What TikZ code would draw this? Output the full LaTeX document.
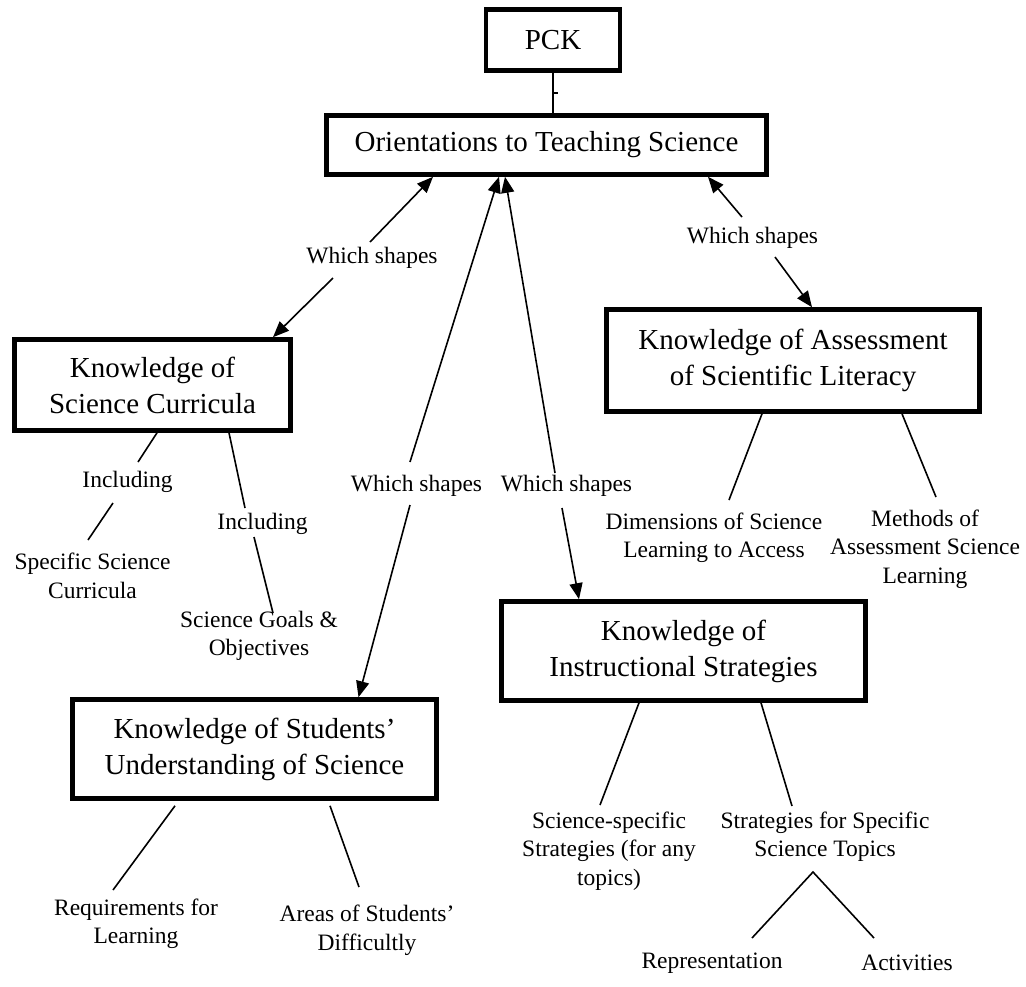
\documentclass[tikz,border=0pt]{standalone}
\usepackage{fontspec}
\setmainfont{Liberation Serif}
\usetikzlibrary{arrows.meta,calc}

\begin{document}
\begin{tikzpicture}[
      x=1pt, y=-1pt,
      line width=1.6pt,
      >={Triangle[length=16pt,width=13pt]},
      box/.style={draw, line width=4.6pt, align=center, inner sep=0pt, font=\fontsize{29pt}{36pt}\selectfont},
      lbl/.style={align=center, inner sep=0pt, font=\fontsize{23.5pt}{28.5pt}\selectfont},
]
\useasboundingbox (0,0) rectangle (1026,986);

% boxes
\node[box, minimum width=134pt, minimum height=61pt] (pck) at (553,40) {PCK};
\node[box, minimum width=440pt, minimum height=59pt] (orient) at (546.5,145) {Orientations to Teaching Science};
\node[box, minimum width=276pt, minimum height=91pt] (curric) at (152.5,385) {Knowledge of\\Science Curricula};
\node[box, minimum width=373pt, minimum height=102pt] (assess) at (793,360.5) {Knowledge of Assessment\\of Scientific Literacy};
\node[box, minimum width=364pt, minimum height=99pt] (stud) at (254.5,749) {Knowledge of Students'\\Understanding of Science};
\node[box, minimum width=364pt, minimum height=99pt] (instr) at (683.5,651) {Knowledge of\\Instructional Strategies};

% labels on the arrows
\node[lbl] (shapes_curric) at (372,257.5) {Which shapes};
\node[lbl] (shapes_stud) at (416.5,485.5) {Which shapes};
\node[lbl] (shapes_instr) at (566.5,485.5) {Which shapes};
\node[lbl] (shapes_assess) at (752.5,237.5) {Which shapes};

% leaves
\node[lbl] (incl_a) at (127.5,481.5) {Including};
\node[lbl] (incl_b) at (262.5,523.5) {Including};
\node[lbl] (spec) at (92.5,576) {Specific Science\\Curricula};
\node[lbl] (goals) at (259,636) {Science Goals \&\\Objectives};
\node[lbl] (req) at (136,923.6) {Requirements for\\Learning};
\node[lbl] (areas) at (367,930) {Areas of Students'\\Difficultly};
\node[lbl] (dims) at (714,538) {Dimensions of Science\\Learning to Access};
\node[lbl] (meth) at (925,549) {Methods of\\Assessment Science\\Learning};
\node[lbl] (sspec) at (609,851) {Science-specific\\Strategies (for any\\topics)};
\node[lbl] (stopic) at (825,836.6) {Strategies for Specific\\Science Topics};
\node[lbl] (rep) at (712,963) {Representation};
\node[lbl] (act) at (907,963) {Activities};

% pck
\draw (pck.south) -- (pck.south |- orient.north);
\draw ($(pck.south)!0.5!(pck.south |- orient.north)$) -- ++(5,0);

% which shapes arrows
\draw[<-] ([shift={(-113.5,0)}]orient.south) -- ([shift={(-2,-15.5)}]shapes_curric.center);
\draw[->] ([shift={(-39,20.5)}]shapes_curric.center) -- ([shift={(120.5,0)}]curric.north);
\draw[<-] ([shift={(-47.5,0)}]orient.south) -- ([shift={(-6.5,-23.5)}]shapes_stud.center);
\draw[->] ([shift={(-6.5,19.5)}]shapes_stud.center) -- ([shift={(104,0)}]stud.north);
\draw[<-] ([shift={(-41.5,0)}]orient.south) -- ([shift={(-11.5,-12.5)}]shapes_instr.center);
\draw[->] ([shift={(-4.5,22.5)}]shapes_instr.center) -- ([shift={(-104.5,0)}]instr.north);
\draw[<-] ([shift={(161.5,0)}]orient.south) -- ([shift={(-10.5,-20.5)}]shapes_assess.center);
\draw[->] ([shift={(22.5,19.5)}]shapes_assess.center) -- ([shift={(19,0)}]assess.north);

% curricula
\draw ([shift={(4.5,0)}]curric.south) -- ([shift={(10.5,-19.5)}]incl_a.center);
\draw ([shift={(-14.5,21.5)}]incl_a.center) -- ([shift={(-4.5,-36)}]spec.center);
\draw ([shift={(76.5,0)}]curric.south) -- ([shift={(-17.5,-15.5)}]incl_b.center);
\draw ([shift={(-8.5,13.5)}]incl_b.center) -- ([shift={(14,-23)}]goals.center);

% students
\draw ([shift={(-79.5,5)}]stud.south) -- ([shift={(-23,-33.6)}]req.center);
\draw ([shift={(75.5,5)}]stud.south) -- ([shift={(-8,-43)}]areas.center);

% instructional
\draw ([shift={(-44.5,0)}]instr.south) -- ([shift={(-9,-46)}]sspec.center);
\draw ([shift={(77.5,0)}]instr.south) -- ([shift={(-33,-30.6)}]stopic.center);
\draw ([shift={(40,-25)}]rep.center) -- ([shift={(-12,35.4)}]stopic.center) -- ([shift={(-33,-25)}]act.center);

% assessment
\draw ([shift={(-31,0)}]assess.south) -- ([shift={(15,-38)}]dims.center);
\draw ([shift={(109,0)}]assess.south) -- ([shift={(11,-52)}]meth.center);

\end{tikzpicture}
\end{document}
